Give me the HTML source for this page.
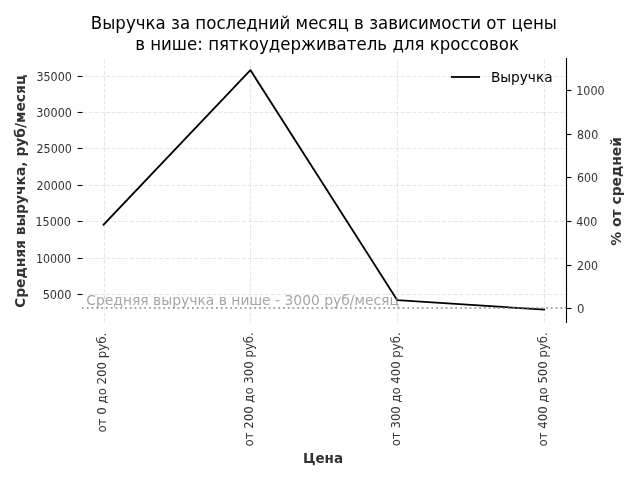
<!DOCTYPE html>
<html lang="ru">
<head>
<meta charset="utf-8">
<title>Выручка за последний месяц в зависимости от цены</title>
<style>
html,body{margin:0;padding:0;background:#fff;}
body{width:640px;height:480px;overflow:hidden;}
svg{display:block;}
text{font-family:"DejaVu Sans","Liberation Sans",sans-serif;}
.tick{font-size:11.806px;fill:#333;}
.lab{font-size:13.889px;font-weight:700;fill:#333;}
.ttl{font-size:16.667px;fill:#000;}
.leg{font-size:13.889px;fill:#000;}
.ann{font-size:13.889px;fill:#808080;fill-opacity:.7;}
.grid{fill:none;stroke:#b0b0b0;stroke-opacity:0.3;stroke-width:1.111;stroke-dasharray:4.111 1.778;}
.tk{fill:none;stroke:#000;stroke-width:1.111;}
</style>
</head>
<body>
<svg width="640" height="480" viewBox="0 0 640 480">
<rect x="0" y="0" width="640" height="480" fill="#fff"/>
<g class="grid">
<path d="M104.5 322.5V58.133"/>
<path d="M250.5 322.5V58.133"/>
<path d="M397.5 322.5V58.133"/>
<path d="M544.5 322.5V58.133"/>
<path d="M82.5 294.5H566.097"/>
<path d="M82.5 258.5H566.097"/>
<path d="M82.5 221.5H566.097"/>
<path d="M82.5 185.5H566.097"/>
<path d="M82.5 148.5H566.097"/>
<path d="M82.5 112.5H566.097"/>
<path d="M82.5 76.5H566.097"/>
</g>
<g class="tk">
<path d="M82.5 294.5h-4.861"/>
<path d="M82.5 258.5h-4.861"/>
<path d="M82.5 221.5h-4.861"/>
<path d="M82.5 185.5h-4.861"/>
<path d="M82.5 148.5h-4.861"/>
<path d="M82.5 112.5h-4.861"/>
<path d="M82.5 76.5h-4.861"/>
</g>
<g>
<text class="tick" text-anchor="end" transform="translate(71.555 298.514) scale(0.963 1.093)">5000</text>
<text class="tick" text-anchor="end" transform="translate(71.18 262.536) scale(0.94 1.113)">10000</text>
<text class="tick" text-anchor="end" transform="translate(70.868 225.56) scale(0.943 1.01)">15000</text>
<text class="tick" text-anchor="end" transform="translate(71.868 189.77) scale(0.943 1.01)">20000</text>
<text class="tick" text-anchor="end" transform="translate(71.868 152.98) scale(0.943 1.01)">25000</text>
<text class="tick" text-anchor="end" transform="translate(71.93 116.627) scale(0.951 0.99)">30000</text>
<text class="tick" text-anchor="end" transform="translate(71.805 80.838) scale(0.943 1.008)">35000</text>
</g>
<g>
<text class="tick" transform="translate(105.909 432.611) rotate(-90) scale(1 1.008)">от 0 до 200 руб.</text>
<text class="tick" transform="translate(252.542 446.509) rotate(-90) scale(0.995 1.02)">от 200 до 300 руб.</text>
<text class="tick" transform="translate(399.612 446.196) rotate(-90) scale(0.99 1.083)">от 300 до 400 руб.</text>
<text class="tick" transform="translate(546.557 446.384) rotate(-90) scale(0.993 1.09)">от 400 до 500 руб.</text>
</g>
<text class="lab" text-anchor="middle" transform="translate(322.969 462.505) scale(0.975 1.025)">Цена</text>
<text class="lab" text-anchor="middle" transform="translate(24.697 191.428) rotate(-90) scale(0.998 1.028)">Средняя выручка, руб/месяц</text>
<polyline points="103.613,224.703 250.434,70.109 397.254,300.186 544.074,309.622" fill="none" stroke="#000" stroke-width="1.806" stroke-linecap="square" stroke-linejoin="round"/>
<path d="M81.59 308H566.097" fill="none" stroke="#808080" stroke-opacity="0.7" stroke-width="1.806" stroke-dasharray="1.806 2.979" stroke-dashoffset="-0.4"/>
<text class="ann" transform="translate(86.308 305.332)">Средняя выручка в нише - 3000 руб/месяц</text>
<text class="ttl" text-anchor="middle" transform="translate(323.906 28.512) scale(0.998 1.067)">Выручка за последний месяц в зависимости от цены</text>
<text class="ttl" text-anchor="middle" transform="translate(327.056 49.55) scale(0.998 1.067)">в нише: пяткоудерживатель для кроссовок</text>
<path d="M451.9 77H479.1" fill="none" stroke="#000" stroke-width="1.806" stroke-linecap="square"/>
<text class="leg" transform="translate(490.958 81.687) scale(0.983 1.02)">Выручка</text>
<g class="tk">
<path d="M566.64 308.5h4.861"/>
<path d="M566.64 265.5h4.861"/>
<path d="M566.64 221.5h4.861"/>
<path d="M566.64 177.5h4.861"/>
<path d="M566.64 134.5h4.861"/>
<path d="M566.64 90.5h4.861"/>
</g>
<g>
<text class="tick" transform="translate(577.069 312.655) scale(1 0.99)">0</text>
<text class="tick" transform="translate(576.981 269.545) scale(0.936 1.032)">200</text>
<text class="tick" transform="translate(576.231 225.56) scale(0.936 1.012)">400</text>
<text class="tick" transform="translate(577.031 181.512) scale(0.936 1.032)">600</text>
<text class="tick" transform="translate(577.082 138.526) scale(0.936 1.018)">800</text>
<text class="tick" transform="translate(576.244 94.541) scale(0.943 1.11)">1000</text>
</g>
<text class="lab" text-anchor="middle" transform="translate(620.534 191.365) rotate(-90)">% от средней</text>
<path d="M566.5 323.05V57.95" fill="none" stroke="#000" stroke-width="1.111"/>
</svg>
</body>
</html>
